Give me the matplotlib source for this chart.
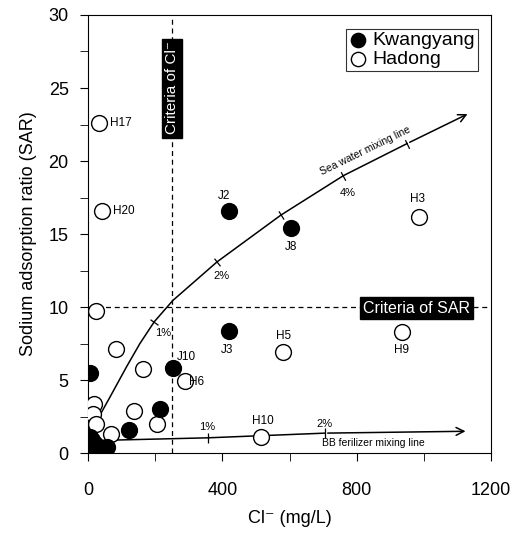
import matplotlib.pyplot as plt

plt.rcParams["font.family"] = ["Liberation Sans", "DejaVu Sans"]

# Kwangyang (filled)
kw_cl = [418, 604, 418, 252, 7, 215, 122, 5, 20, 55, 25, 12, 30, 8]
kw_sar = [16.6, 15.4, 8.33, 5.85, 5.5, 3.0, 1.58, 1.1, 0.66, 0.4, 0.07, 0.9, 0.3, 0.6]
# Hadong (open)
hd_cl = [31, 42, 984, 581, 933, 289, 515, 24, 82, 163, 136, 206, 67, 18, 13, 22]
hd_sar = [22.6, 16.6, 16.2, 6.92, 8.27, 4.96, 1.1, 9.7, 7.15, 5.73, 2.86, 1.97, 1.33, 3.38, 2.65, 1.97]

# point labels
lab_txt = ["J2", "J8", "H3", "H17", "H20", "J3", "H5", "H9", "J10", "H6", "H10"]
lab_x = [405, 604, 980, 65, 74, 413, 582, 934, 293, 301, 521]
lab_y = [17.6, 14.1, 17.4, 22.6, 16.6, 7.08, 8.0, 7.08, 6.6, 4.84, 2.2]
lab_ha = ["center", "center", "center", "left", "left", "center", "center", "center", "center", "left", "center"]

# sea water mixing line
sea_cl = [35, 65, 114, 154, 197, 252, 384, 574, 760, 950, 1137]
sea_sar = [2.6, 3.84, 5.9, 7.5, 9.0, 10.45, 13.1, 16.3, 19.0, 21.2, 23.3]
sea_tick_cl = [197, 384, 574, 760, 950]
sea_tick_sar = [9.0, 13.1, 16.3, 19.0, 21.2]
sea_tick_ang = [55, 38, 32, 28, 26]

# BB fertilizer mixing line
bb_cl = [35, 357, 705, 1132]
bb_sar = [0.87, 1.05, 1.37, 1.5]
bb_tick_cl = [357, 705]
bb_tick_sar = [1.05, 1.37]

fig = plt.figure(figsize=(5.31, 5.35), dpi=100)
ax = fig.add_axes([0.166, 0.153, 0.759, 0.819])

# criteria lines
ax.axvline(250, color="black", ls=(0, (4, 3)), lw=0.9, zorder=1)
ax.axhline(10, color="black", ls=(0, (4, 3)), lw=0.9, zorder=1)

# mixing lines
ax.plot(sea_cl[:-1], sea_sar[:-1], color="black", lw=1.1, zorder=2)
ax.annotate("", xy=(sea_cl[-1], sea_sar[-1]), xytext=(sea_cl[-2], sea_sar[-2]),
            arrowprops=dict(arrowstyle="->", color="black", lw=1.1, mutation_scale=14))
for x, y, a in zip(sea_tick_cl, sea_tick_sar, sea_tick_ang):
    ax.plot(x, y, marker=(2, 0, a), color="black", ms=7, mew=0.9)
ax.plot(bb_cl[:-1], bb_sar[:-1], color="black", lw=1.1, zorder=2)
ax.annotate("", xy=(bb_cl[-1], bb_sar[-1]), xytext=(bb_cl[-2], bb_sar[-2]),
            arrowprops=dict(arrowstyle="->", color="black", lw=1.1, mutation_scale=14))
ax.plot(bb_tick_cl, bb_tick_sar, ls="none", marker="|", color="black", ms=7, mew=0.9)

ax.text(222, 8.2, "1%", fontsize=8, ha="center", va="center")
ax.text(397, 12.1, "2%", fontsize=8, ha="center", va="center")
ax.text(773, 17.8, "4%", fontsize=8, ha="center", va="center")
ax.text(824, 20.7, "Sea water mixing line", fontsize=7.5, rotation=26,
        ha="center", va="center")
ax.text(355, 1.8, "1%", fontsize=8, ha="center", va="center")
ax.text(705, 1.97, "2%", fontsize=8, ha="center", va="center")
ax.text(850, 0.7, "BB ferilizer mixing line", fontsize=7.5, ha="center", va="center")

# data points
ax.scatter(kw_cl, kw_sar, s=130, facecolor="black", edgecolor="black", lw=1,
           zorder=4, label="Kwangyang")
ax.scatter(hd_cl, hd_sar, s=130, facecolor="white", edgecolor="black", lw=1,
           zorder=3, label="Hadong")

for t, x, y, h in zip(lab_txt, lab_x, lab_y, lab_ha):
    ax.text(x, y, t, fontsize=8.5, ha=h, va="center", zorder=5)

# criteria boxes
ax.text(250, 25.0, "Criteria of Cl\u207b", rotation=90, fontsize=11, color="white",
        ha="center", va="center", zorder=5,
        bbox=dict(boxstyle="square,pad=0.2", fc="black", ec="black"))
ax.text(977, 9.93, "Criteria of SAR", fontsize=11.5, color="white",
        ha="center", va="center", zorder=5,
        bbox=dict(boxstyle="square,pad=0.2", fc="black", ec="black"))

ax.set_xlim(0, 1200)
ax.set_ylim(0, 30)
ax.set_xticks([0, 400, 800, 1200])
ax.set_xticks([200, 600, 1000], minor=True)
ax.set_yticks([0, 5, 10, 15, 20, 25, 30])
ax.set_yticks([2.5, 7.5, 12.5, 17.5, 22.5, 27.5], minor=True)
ax.tick_params(which="major", direction="out", length=6, labelsize=13)
ax.tick_params(axis="x", which="major", pad=15)
ax.tick_params(axis="y", which="major", pad=8)
ax.tick_params(which="minor", direction="out", length=6)
ax.set_xlabel("Cl\u207b (mg/L)", fontsize=13, labelpad=8)
ax.set_ylabel("Sodium adsorption ratio (SAR)", fontsize=13, labelpad=8)

leg = ax.legend(loc="upper right", fontsize=14, frameon=True, fancybox=False,
                edgecolor="black", handletextpad=0.2, borderpad=0.15,
                labelspacing=0.05, borderaxespad=0.7, handlelength=1.0, markerscale=0.9)
leg.get_frame().set_linewidth(0.8)

fig.savefig("out.png", dpi=100)
